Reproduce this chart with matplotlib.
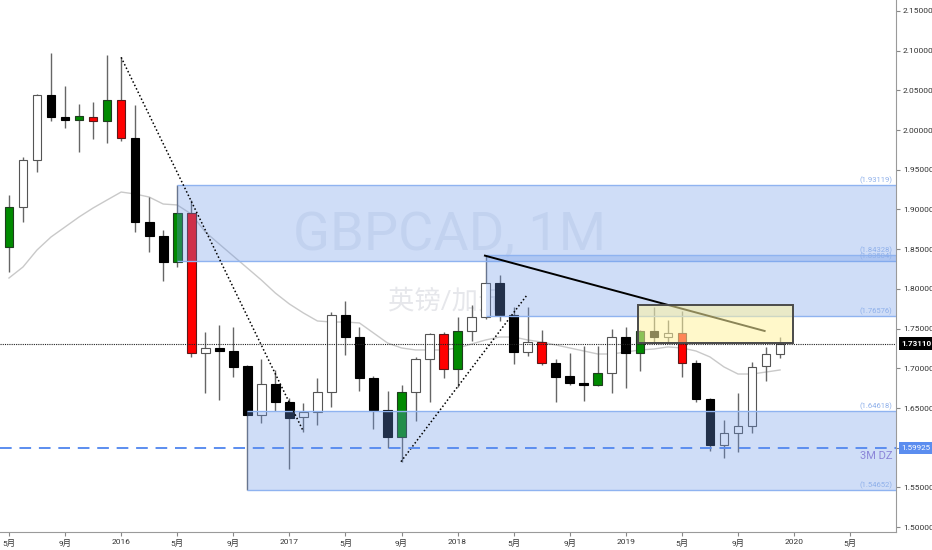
import numpy as np
import matplotlib.pyplot as plt
from matplotlib.patches import Rectangle
from matplotlib.transforms import blended_transform_factory

plt.rcParams['font.family'] = ['Roboto', 'Noto Sans CJK SC', 'DejaVu Sans']

# monthly candles May 2015 .. Dec 2019, position 0 = Jan 2016
months = list(range(-8, 48))
opens = [1.8528, 1.9035, 1.9620, 2.0438, 2.0165, 2.0131, 2.0169, 2.0111, 2.0383, 1.9904,
         1.8839, 1.8670, 1.8339, 1.8952, 1.7197, 1.7252, 1.7214, 1.7029, 1.6409, 1.6798,
         1.6576, 1.6383, 1.6453, 1.6705, 1.7671, 1.7398, 1.6882, 1.6475, 1.6131, 1.6698,
         1.7117, 1.7436, 1.6987, 1.7470, 1.7646, 1.8071, 1.7671, 1.7209, 1.7335, 1.7071,
         1.6903, 1.6819, 1.6790, 1.6937, 1.7398, 1.7197, 1.7470, 1.7398, 1.7441, 1.7071,
         1.6617, 1.6034, 1.6189, 1.6278, 1.7029, 1.7180]
highs = [1.9183, 1.9665, 2.0455, 2.0975, 2.0556, 2.0329, 2.0358, 2.0946, 2.0917, 2.0312,
         1.9161, 1.8742, 1.9305, 1.9120, 1.7454, 1.7542, 1.7517, 1.7040, 1.7117, 1.6979,
         1.6622, 1.6559, 1.6874, 1.7713, 1.7851, 1.7524, 1.6907, 1.6718, 1.6790, 1.7146,
         1.7449, 1.7461, 1.7643, 1.7797, 1.8433, 1.8175, 1.7768, 1.7768, 1.7482, 1.7114,
         1.7197, 1.7281, 1.7281, 1.7491, 1.7524, 1.7480, 1.7768, 1.7609, 1.7722, 1.7105,
         1.6630, 1.6349, 1.6685, 1.7083, 1.7265, 1.7391]
lows = [1.8213, 1.8839, 1.9476, 2.0118, 2.0023, 1.9728, 1.9884, 1.9841, 1.9867, 1.8720,
        1.8469, 1.8103, 1.8280, 1.7139, 1.6685, 1.6601, 1.6887, 1.5465, 1.6315, 1.6462,
        1.5728, 1.6202, 1.6286, 1.6516, 1.7168, 1.6714, 1.6232, 1.5993, 1.5824, 1.6340,
        1.6579, 1.6874, 1.6768, 1.7348, 1.7617, 1.7600, 1.7050, 1.7155, 1.7042, 1.6579,
        1.6790, 1.6592, 1.6777, 1.6693, 1.6748, 1.6970, 1.7315, 1.7315, 1.6894, 1.6572,
        1.5962, 1.5867, 1.5950, 1.6181, 1.6844, 1.7126]
closes = [1.9032, 1.9620, 2.0442, 2.0161, 2.0131, 2.0174, 2.0111, 2.0383, 1.9904, 1.8839,
          1.8666, 1.8339, 1.8952, 1.7197, 1.7252, 1.7214, 1.7020, 1.6409, 1.6798, 1.6576,
          1.6378, 1.6453, 1.6705, 1.7671, 1.7398, 1.6882, 1.6475, 1.6131, 1.6698, 1.7117,
          1.7436, 1.6987, 1.7470, 1.7646, 1.8071, 1.7671, 1.7209, 1.7335, 1.7071, 1.6894,
          1.6811, 1.6790, 1.6937, 1.7398, 1.7197, 1.7470, 1.7398, 1.7441, 1.7071, 1.6617,
          1.6034, 1.6189, 1.6278, 1.7020, 1.7180, 1.7311]
# painted body colours: w white, k black, g green, r red
paint = list('gwwkkgrgrk' 'kkgrwkkkwk' 'kwwwkkkkgw' 'wrgwwkkwrk' 'kkgwkgkwrk' 'kwwwww')
ma = [1.8137, 1.8276, 1.8490, 1.8654, 1.8780, 1.8906, 1.9019, 1.9120, 1.9220, 1.9195,
      1.9157, 1.9069, 1.9057, 1.8943, 1.8717, 1.8565, 1.8414, 1.8263, 1.8112, 1.7948,
      1.7810, 1.7697, 1.7596, 1.7583, 1.7583, 1.7571, 1.7445, 1.7319, 1.7256, 1.7231,
      1.7231, 1.7231, 1.7256, 1.7306, 1.7357, 1.7394, 1.7394, 1.7357, 1.7331, 1.7294,
      1.7256, 1.7218, 1.7180, 1.7180, 1.7205, 1.7231, 1.7243, 1.7269, 1.7256, 1.7218,
      1.7143, 1.7017, 1.6928, 1.6928, 1.6953, 1.6979]

# zones: (start month, low, high)
zone_start = [4, 26, 9]
zone_low = [1.83504, 1.76576, 1.54652]
zone_high = [1.93119, 1.84328, 1.64618]
last_price = 1.73110
dz_price = 1.59925

tick_pos = list(range(-8, 53, 4))
tick_lbl = ['5月', '9月', '2016', '5月', '9月', '2017', '5月', '9月', '2018',
            '5月', '9月', '2019', '5月', '9月', '2020', '5月']

face = {'w': 'white', 'k': 'black', 'g': '#008a00', 'r': '#ff0000'}
edge = {'w': '#555555', 'k': 'black', 'g': '#1f3d1f', 'r': '#5a1a1a'}

fig = plt.figure(figsize=(9.32, 5.5), dpi=100)
ax = fig.add_axes([0, 18 / 550, 896 / 932, 532 / 550])
xmin, xmax = -8.64, 55.27
ax.set_xlim(xmin, xmax)
ax.set_ylim(1.49383, 2.16385)

# watermark
ax.text(23.4, 1.868, 'GBPCAD, 1M', ha='center', va='center', fontsize=39,
        color='#eceef3', zorder=0)
ax.text(23.2, 1.785, '英镑/加元', ha='center', va='center', fontsize=19,
        color='#e6e7eb', zorder=0)

ax.plot(months, ma, color='#c9c9c9', lw=1, zorder=1)

# candles
ax.vlines(months, lows, highs, color='#666666', lw=1, zorder=2)
bodies = [max(abs(c - o), 0.0006) for o, c in zip(opens, closes)]
bottoms = [min(o, c) for o, c in zip(opens, closes)]
ax.bar(months, bodies, bottom=bottoms, width=0.62,
       color=[face[p] for p in paint], edgecolor=[edge[p] for p in paint],
       linewidth=0.8, zorder=3)

# supply / demand zones
for s, lo, hi in zip(zone_start, zone_low, zone_high):
    ax.add_patch(Rectangle((s, lo), xmax - s, hi - lo, facecolor='#6b97e9',
                           alpha=0.32, edgecolor='none', zorder=4))
    ax.hlines([lo, hi], s, xmax, color='#8fb3f0', lw=1, zorder=4)

bt = blended_transform_factory(ax.transAxes, ax.transData)
for v in zone_high + zone_low:
    ax.text(0.996, v + 0.001, '(%.5f)' % v, transform=bt, ha='right', va='bottom',
            fontsize=5.5, color='#8fb0ea', zorder=6)

# trend lines
ax.plot([0, 12.95], [2.0917, 1.6223], color='black', ls=(0, (1, 1.5)), lw=1.1, zorder=5)
ax.plot([19.96, 28.9], [1.5824, 1.7911], color='black', ls=(0, (1, 1.5)), lw=1.1, zorder=5)
ax.plot([25.95, 45.9], [1.8419, 1.7470], color='black', lw=1.4, zorder=5)

# highlight box
ax.add_patch(Rectangle((36.9, 1.7315), 11.04, 1.7797 - 1.7315, facecolor='#fff3a0',
                       alpha=0.55, edgecolor='none', zorder=6))
ax.add_patch(Rectangle((36.9, 1.7315), 11.04, 1.7797 - 1.7315, facecolor='none',
                       edgecolor='#4a4a4a', lw=1.4, zorder=6))

# horizontal levels
ax.axhline(last_price, color='#222222', ls=(0, (1, 1)), lw=0.8, zorder=5)
ax.axhline(dz_price, color='#5b8def', ls=(0, (6, 4)), lw=1.4, zorder=5)
ax.text(0.996, dz_price - 0.004, '3M DZ', transform=bt, ha='right', va='top',
        fontsize=8, color='#8c86d9', zorder=6)

# right axis
ax.yaxis.tick_right()
yt = np.arange(1.50, 2.1501, 0.05)
ax.set_yticks(yt)
# the 1.60 label sits under the 3M DZ price tag
ax.set_yticklabels(['' if abs(v - 1.60) < 1e-6 else '%.5f' % v for v in yt])
ax.set_xticks(tick_pos)
ax.set_xticklabels(tick_lbl)
ax.tick_params(axis='both', labelsize=6, colors='#888888', labelcolor='#333333',
               length=3, width=0.8, pad=2)
for s in ['top', 'left']:
    ax.spines[s].set_visible(False)
for s in ['right', 'bottom']:
    ax.spines[s].set_color('#9a9a9a')

ax.text(1.006, last_price, '1.73110', transform=bt, ha='left', va='center',
        fontsize=5.8, color='white', fontweight='bold', clip_on=False, zorder=7,
        bbox=dict(boxstyle='square,pad=0.35', fc='black', ec='none'))
ax.text(1.006, dz_price, '1.59925', transform=bt, ha='left', va='center',
        fontsize=5.8, color='white', clip_on=False, zorder=7,
        bbox=dict(boxstyle='square,pad=0.35', fc='#5b8def', ec='none'))

fig.savefig('out.png', dpi=100, facecolor='white')
